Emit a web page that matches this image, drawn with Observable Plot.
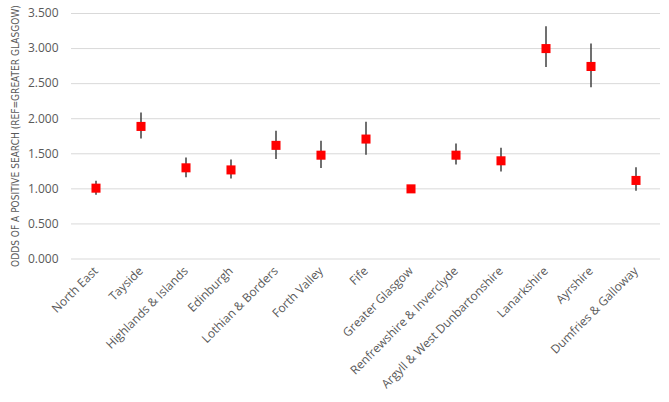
<!DOCTYPE html>
<html>
<head>
<meta charset="utf-8">
<script src="https://cdn.jsdelivr.net/npm/d3@7"></script>
<script src="https://cdn.jsdelivr.net/npm/@observablehq/plot@0.6"></script>
<style>
  html, body { margin: 0; padding: 0; background: #fff; }
  #chart svg { display: block; }
</style>
</head>
<body>
<div id="chart"></div>
<script>
const categories = ["North East", "Tayside", "Highlands & Islands", "Edinburgh", "Lothian & Borders", "Forth Valley", "Fife", "Greater Glasgow", "Renfrewshire & Inverclyde", "Argyll & West Dunbartonshire", "Lanarkshire", "Ayrshire", "Dumfries & Galloway"];
const odds  = [1.01, 1.89, 1.30, 1.27, 1.62, 1.48, 1.71, 1.00, 1.48, 1.40, 3.00, 2.745, 1.12];
const lower = [0.91, 1.71, 1.16, 1.14, 1.42, 1.29, 1.48, null, 1.34, 1.24, 2.73, 2.44, 0.965];
const upper = [1.11, 2.08, 1.44, 1.41, 1.82, 1.68, 1.95, null, 1.64, 1.58, 3.31, 3.065, 1.30];
const yTicks = [0, 0.5, 1, 1.5, 2, 2.5, 3, 3.5];
const yLabel = "ODDS OF A POSITIVE SEARCH (REF=GREATER GLASGOW)";

const data = categories.map((c, i) => ({ region: c, odds: odds[i], lo: lower[i], hi: upper[i] }));
const bars = data.filter(d => d.lo != null && d.hi != null);

const chart = Plot.plot({
  width: 669,
  height: 402,
  marginLeft: 71,
  marginRight: 9,
  marginTop: 13,
  marginBottom: 143.5,
  style: { fontFamily: "'Open Sans', sans-serif", fontSize: "12px", color: "#595959", background: "#fff" },
  x: { type: "band", domain: categories, padding: 0 },
  y: { domain: [0, 3.5] },
  marks: [
    Plot.ruleY(yTicks, { stroke: "#d9d9d9", strokeWidth: 1 }),
    Plot.axisY({ ticks: yTicks, tickFormat: d3.format(".3f"), tickSize: 0, tickPadding: 13, fill: "#595959", label: null }),
    Plot.axisX({ tickSize: 0, tickRotate: -45, tickPadding: 10, label: null, fill: "#595959" }),
    Plot.ruleX(bars, { x: "region", y1: "lo", y2: "hi", stroke: "#404040", strokeWidth: 1.5 }),
    Plot.dot(data, { x: "region", y: "odds", symbol: "square", r: 5.1, fill: "#ff0000", stroke: "none" })
  ]
});
document.getElementById("chart").appendChild(chart);

// y-axis title, rotated, sized to span the plot height like the reference
const svg = d3.select(chart);
const t = svg.append("text")
  .attr("transform", "translate(15,136) rotate(-90)")
  .attr("text-anchor", "middle")
  .attr("dominant-baseline", "central")
  .attr("fill", "#595959")
  .style("font-family", "'Liberation Sans Narrow', 'DejaVu Sans Condensed', 'Open Sans', sans-serif")
  .style("font-size", "12px")
  .text(yLabel);
const len = t.node().getComputedTextLength();
if (len > 0) t.style("font-size", Math.min(13, 12 * 262 / len).toFixed(2) + "px");
</script>
</body>
</html>
